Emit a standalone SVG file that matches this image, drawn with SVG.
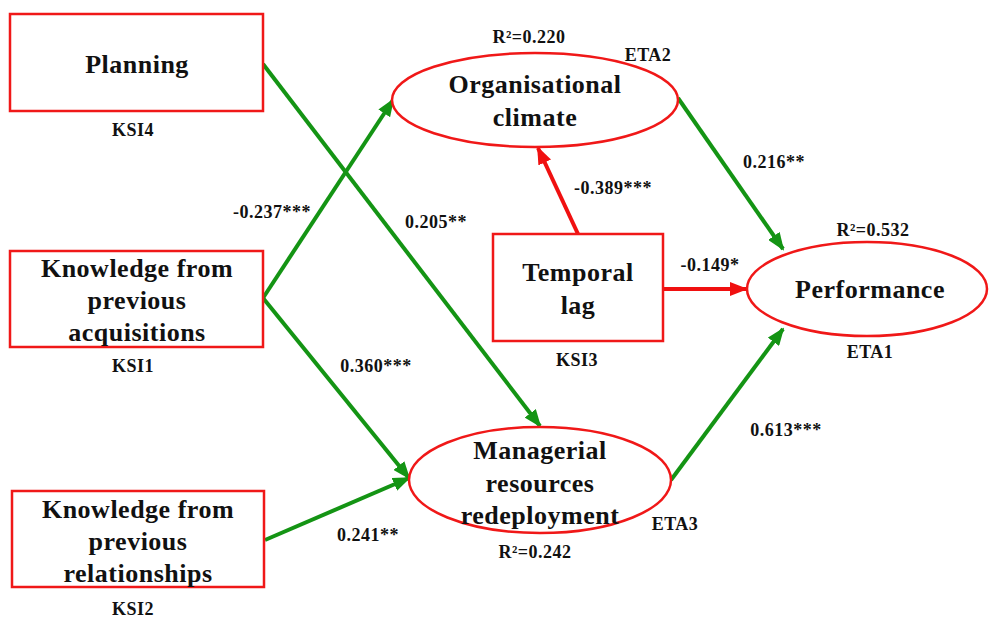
<svg xmlns="http://www.w3.org/2000/svg" width="990" height="619" viewBox="0 0 990 619" font-family="Liberation Serif, Times New Roman, DejaVu Serif, serif">
<style>
.node{fill:#fff;stroke:#f01818;stroke-width:2.5}
.t{font-weight:700;font-size:26px;fill:#111;text-anchor:middle;letter-spacing:0.5px}
.l{font-weight:700;font-size:18px;fill:#111;text-anchor:middle;letter-spacing:0.5px}
.g{stroke:#149414;stroke-width:4;fill:none}
.r{stroke:#f01010;stroke-width:4;fill:none}
</style>
<defs>
<marker id="ag" markerUnits="userSpaceOnUse" markerWidth="18" markerHeight="14" refX="16" refY="7" orient="auto"><path d="M0,0 L18,7 L0,14 Z" fill="#149414"/></marker>
<marker id="ar" markerUnits="userSpaceOnUse" markerWidth="18" markerHeight="14" refX="16" refY="7" orient="auto"><path d="M0,0 L18,7 L0,14 Z" fill="#f01010"/></marker>
</defs>
<rect width="990" height="619" fill="#fff"/>
<g id="connectors">
<line class="g" x1="263" y1="64" x2="540" y2="426" marker-end="url(#ag)"/>
<line class="g" x1="263" y1="298" x2="393" y2="100" marker-end="url(#ag)"/>
<line class="g" x1="263" y1="298" x2="409" y2="478" marker-end="url(#ag)"/>
<line class="g" x1="265" y1="540" x2="409" y2="478" marker-end="url(#ag)"/>
<line class="r" x1="578" y1="234" x2="538" y2="148" marker-end="url(#ar)"/>
<line class="r" x1="663" y1="289" x2="746" y2="289" marker-end="url(#ar)"/>
<line class="g" x1="678" y1="98" x2="783" y2="249" marker-end="url(#ag)"/>
<line class="g" x1="671" y1="480" x2="783" y2="329" marker-end="url(#ag)"/>
<text class="l" x="272" y="218">-0.237***</text>
<text class="l" x="436" y="228">0.205**</text>
<text class="l" x="376" y="372">0.360***</text>
<text class="l" x="368" y="541">0.241**</text>
<text class="l" x="613" y="194">-0.389***</text>
<text class="l" x="710" y="271">-0.149*</text>
<text class="l" x="774" y="168">0.216**</text>
<text class="l" x="786" y="436">0.613***</text>
</g>
<g id="KSI4">
<rect class="node" x="10" y="14" width="253" height="97"/>
<text class="t" x="137" y="73">Planning</text>
<text class="l" x="133" y="136">KSI4</text>
</g>
<g id="KSI1">
<rect class="node" x="10" y="251" width="253" height="96"/>
<text class="t" x="137" y="277">Knowledge from</text>
<text class="t" x="137" y="309">previous</text>
<text class="t" x="137" y="341">acquisitions</text>
<text class="l" x="133" y="372">KSI1</text>
</g>
<g id="KSI2">
<rect class="node" x="12" y="491" width="252" height="96"/>
<text class="t" x="138" y="518">Knowledge from</text>
<text class="t" x="138" y="550">previous</text>
<text class="t" x="138" y="582">relationships</text>
<text class="l" x="133" y="615">KSI2</text>
</g>
<g id="KSI3">
<rect class="node" x="493" y="234" width="170" height="107"/>
<text class="t" x="578" y="281">Temporal</text>
<text class="t" x="578" y="314">lag</text>
<text class="l" x="577" y="366">KSI3</text>
</g>
<g id="ETA2">
<ellipse class="node" cx="535" cy="100" rx="143" ry="47"/>
<text class="t" x="535" y="93">Organisational</text>
<text class="t" x="535" y="126">climate</text>
<text class="l" x="529" y="43">R²=0.220</text>
<text class="l" x="648" y="61">ETA2</text>
</g>
<g id="ETA1">
<ellipse class="node" cx="867" cy="289" rx="120" ry="47"/>
<text class="t" x="870" y="298">Performance</text>
<text class="l" x="873" y="236">R²=0.532</text>
<text class="l" x="870" y="358">ETA1</text>
</g>
<g id="ETA3">
<ellipse class="node" cx="540" cy="480" rx="131" ry="53"/>
<text class="t" x="540" y="459">Managerial</text>
<text class="t" x="540" y="492">resources</text>
<text class="t" x="540" y="524">redeployment</text>
<text class="l" x="535" y="558">R²=0.242</text>
<text class="l" x="675" y="530">ETA3</text>
</g>
</svg>
